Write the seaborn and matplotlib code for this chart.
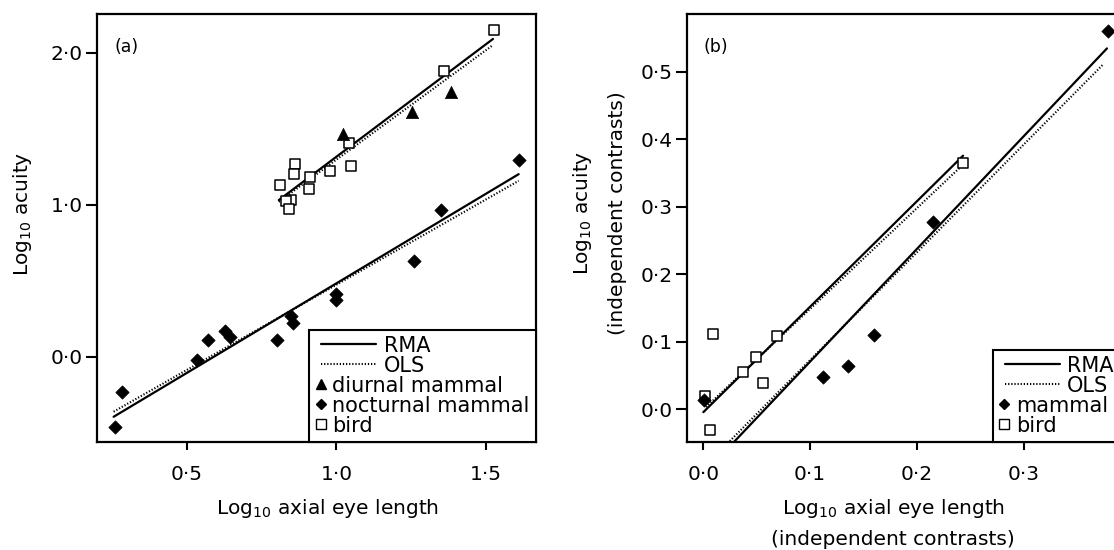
import numpy as np
import pandas as pd
import matplotlib
matplotlib.use("Agg")
import matplotlib.pyplot as plt
import seaborn as sns
from matplotlib.lines import Line2D
from matplotlib.legend_handler import HandlerLine2D

# ---------------- Panel (a): raw values ----------------
bird_a_x = [1.527, 1.360, 1.041, 1.049, 0.977, 0.913, 0.908, 0.862, 0.857, 0.812, 0.847, 0.830, 0.840]
bird_a_y = [2.149, 1.877, 1.403, 1.255, 1.219, 1.184, 1.107, 1.268, 1.202, 1.132, 1.033, 1.026, 0.972]
diurnal_x = [1.021, 1.254, 1.382]
diurnal_y = [1.465, 1.612, 1.739]
nocturnal_x = [1.610, 1.349, 1.260, 0.999, 0.999, 0.849, 0.854, 0.802, 0.627, 0.643, 0.571, 0.534, 0.282, 0.257]
nocturnal_y = [1.294, 0.967, 0.629, 0.412, 0.373, 0.270, 0.222, 0.110, 0.171, 0.132, 0.110, -0.020, -0.228, -0.458]

# fitted lines (upper group, lower group): x extents, slopes, intercepts
fit_a_xrange = [[0.807, 1.524], [0.254, 1.610]]
rma_a_slope = [1.477, 1.176]
rma_a_intercept = [-0.161, -0.692]
ols_a_slope = [1.437, 1.119]
ols_a_intercept = [-0.140, -0.644]

# ---------------- Panel (b): independent contrasts ----------------
bird_b_x = [0.2431, 0.0095, 0.0685, 0.0497, 0.0367, 0.0558, 0.0019, 0.0066]
bird_b_y = [0.365, 0.1116, 0.109, 0.0772, 0.0545, 0.0394, 0.0193, -0.0313]
mammal_b_x = [0.3785, 0.2153, 0.1593, 0.1354, 0.1118, 0.0003]
mammal_b_y = [0.560, 0.277, 0.110, 0.0636, 0.047, 0.0132]

rma_b_xrange = [[0.0, 0.2431], [0.0, 0.3778]]
rma_b_slope = [1.563, 1.670]
rma_b_intercept = [-0.0044, -0.0964]
ols_b_xrange = [[0.0025, 0.2409], [0.0, 0.3737]]
ols_b_slope = [1.493, 1.597]
ols_b_intercept = [-0.0006, -0.0868]

# ticks
a_xticks = [0.5, 1.0, 1.5]
a_xticklabels = ["0·5", "1·0", "1·5"]
a_yticks = [0.0, 1.0, 2.0]
a_yticklabels = ["0·0", "1·0", "2·0"]
b_xticks = [0.0, 0.1, 0.2, 0.3]
b_xticklabels = ["0·0", "0·1", "0·2", "0·3"]
b_yticks = [0.0, 0.1, 0.2, 0.3, 0.4, 0.5]
b_yticklabels = ["0·0", "0·1", "0·2", "0·3", "0·4", "0·5"]

# ---------------- style ----------------
sns.set_theme(style="ticks")
plt.rcParams["font.family"] = ["DejaVu Sans"]
plt.rcParams["mathtext.fontset"] = "dejavusans"
plt.rcParams["mathtext.default"] = "regular"
plt.rcParams["axes.linewidth"] = 1.6
plt.rcParams["axes.edgecolor"] = "black"
plt.rcParams["xtick.color"] = "black"
plt.rcParams["ytick.color"] = "black"
plt.rcParams["text.color"] = "black"
plt.rcParams["axes.labelcolor"] = "black"

FS_TICK = 14.5
FS_LABEL = 14.5
FS_LEG = 15
DOT = (0, (0.6, 0.9))
LW = 1.6

fig = plt.figure(figsize=(11.14, 5.5), dpi=100)
W, H = 1114, 550
ax_a = fig.add_axes([97 / W, 1 - 442 / H, (536 - 97) / W, (442 - 14) / H])
ax_b = fig.add_axes([687 / W, 1 - 442 / H, (1120 - 687) / W, (442 - 14) / H])


def draw_fit(ax, xr, slope, intercept, dotted):
    xs = np.array(xr, dtype=float)
    ys = intercept + slope * xs
    kw = dict(color="black", lw=LW if not dotted else 1.5)
    if dotted:
        kw["linestyle"] = DOT
    sns.lineplot(x=xs, y=ys, ax=ax, estimator=None, sort=False, **kw)


def style_axes(ax):
    ax.tick_params(axis="x", direction="out", length=6, width=1.5, pad=10.5,
                   labelsize=FS_TICK, top=False)
    ax.tick_params(axis="y", direction="out", length=8, width=1.5, pad=2,
                   labelsize=FS_TICK, right=False)
    for s in ax.spines.values():
        s.set_linewidth(1.6)
        s.set_color("black")
        s.set_visible(True)
    ax.grid(False)


def add_legend(ax, mk_handles, mk_labels):
    rma = Line2D([], [], color="black", lw=LW)
    ols = Line2D([], [], color="black", lw=1.5, linestyle=DOT)
    line_handler = HandlerLine2D(numpoints=2, marker_pad=0.27)
    hmap = {rma: line_handler, ols: line_handler}
    for h in mk_handles:
        hmap[h] = HandlerLine2D(numpoints=1)
    leg = ax.legend([rma, ols] + mk_handles, ["RMA", "OLS"] + mk_labels,
                    handler_map=hmap, loc="lower right", borderaxespad=0,
                    frameon=True, fancybox=False, edgecolor="black", framealpha=1,
                    fontsize=FS_LEG, handlelength=3.17, handletextpad=0.1,
                    labelspacing=0.0, borderpad=0.3)
    leg.get_frame().set_linewidth(1.5)
    items = leg._legend_handle_box.get_children()[0].get_children()
    for item in items[2:]:
        da = item.get_children()[0]
        da.width = 10.5
        for art in da.get_children():
            if isinstance(art, Line2D):
                art.set_xdata([3.8, 3.8, 3.8])
    return leg


# ---------------- Panel (a) ----------------
for i in range(2):
    draw_fit(ax_a, fit_a_xrange[i], rma_a_slope[i], rma_a_intercept[i], False)
    draw_fit(ax_a, fit_a_xrange[i], ols_a_slope[i], ols_a_intercept[i], True)

sns.scatterplot(x=bird_a_x, y=bird_a_y, ax=ax_a, marker="s", s=50, color="white",
                edgecolor="black", linewidth=1.1, zorder=3)
sns.scatterplot(x=diurnal_x, y=diurnal_y, ax=ax_a, marker="^", s=78, color="black",
                edgecolor="black", linewidth=0.5, zorder=3)
sns.scatterplot(x=nocturnal_x, y=nocturnal_y, ax=ax_a, marker="D", s=46, color="black",
                edgecolor="black", linewidth=0.5, zorder=3)

ax_a.set_xlim(0.1984, 1.668)
ax_a.set_ylim(-0.559, 2.254)
ax_a.set_xticks(a_xticks, labels=a_xticklabels)
ax_a.set_yticks(a_yticks, labels=a_yticklabels)
style_axes(ax_a)
ax_a.set_xlabel("Log$_{10}$ axial eye length", fontsize=FS_LABEL)
ax_a.set_ylabel("Log$_{10}$ acuity", fontsize=FS_LABEL)
ax_a.xaxis.set_label_coords(0.525, -0.1285)
ax_a.yaxis.set_label_coords(-0.143, 0.533)
ax_a.text(0.041, 0.944, "(a)", transform=ax_a.transAxes, ha="left", va="top", fontsize=12.5)

tri = Line2D([], [], marker="^", color="black", linestyle="none", markersize=7.5)
dia = Line2D([], [], marker="D", color="black", linestyle="none", markersize=5.4)
sq = Line2D([], [], marker="s", color="black", markerfacecolor="white", markeredgewidth=1.0,
            linestyle="none", markersize=6.5)
add_legend(ax_a, [tri, dia, sq], ["diurnal mammal", "nocturnal mammal", "bird"])

# ---------------- Panel (b) ----------------
for i in range(2):
    draw_fit(ax_b, rma_b_xrange[i], rma_b_slope[i], rma_b_intercept[i], False)
    draw_fit(ax_b, ols_b_xrange[i], ols_b_slope[i], ols_b_intercept[i], True)

sns.scatterplot(x=bird_b_x, y=bird_b_y, ax=ax_b, marker="s", s=50, color="white",
                edgecolor="black", linewidth=1.1, zorder=3)
sns.scatterplot(x=mammal_b_x, y=mammal_b_y, ax=ax_b, marker="D", s=46, color="black",
                edgecolor="black", linewidth=0.5, zorder=3)

ax_b.set_xlim(-0.0153, 0.39)
ax_b.set_ylim(-0.0486, 0.5855)
ax_b.set_xticks(b_xticks, labels=b_xticklabels)
ax_b.set_yticks(b_yticks, labels=b_yticklabels)
style_axes(ax_b)
ax_b.set_xlabel("Log$_{10}$ axial eye length\n(independent contrasts)", fontsize=FS_LABEL,
                linespacing=1.65)
ax_b.set_ylabel("Log$_{10}$ acuity\n(independent contrasts)", fontsize=FS_LABEL,
                linespacing=1.9)
ax_b.xaxis.set_label_coords(0.476, -0.1285)
ax_b.yaxis.set_label_coords(-0.1386, 0.535)
ax_b.text(0.039, 0.944, "(b)", transform=ax_b.transAxes, ha="left", va="top", fontsize=12.5)

dia2 = Line2D([], [], marker="D", color="black", linestyle="none", markersize=5.4)
sq2 = Line2D([], [], marker="s", color="black", markerfacecolor="white", markeredgewidth=1.0,
             linestyle="none", markersize=6.5)
add_legend(ax_b, [dia2, sq2], ["mammal", "bird"])

fig.savefig("out.png", dpi=100)
